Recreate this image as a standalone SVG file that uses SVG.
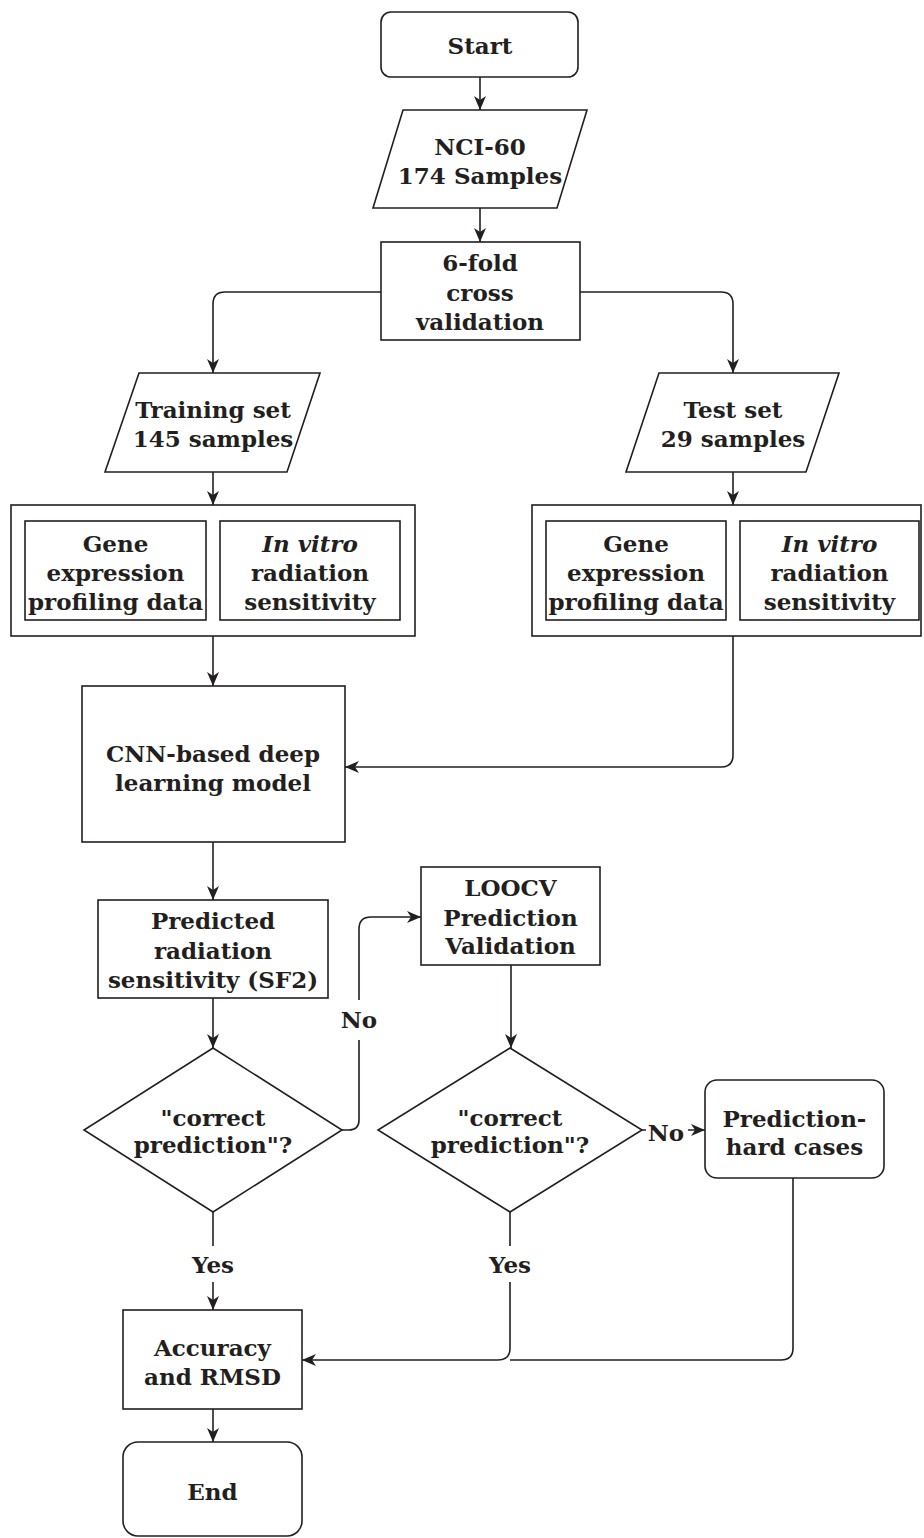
<svg xmlns="http://www.w3.org/2000/svg" width="924" height="1538" viewBox="0 0 924 1538">
<style>
.s{fill:#fff;stroke:#231f20;stroke-width:1.6}
.c{fill:none;stroke:#231f20;stroke-width:1.6}
text{font-family:"DejaVu Serif","Liberation Serif",serif;font-weight:bold;font-size:23px;fill:#231f20;text-anchor:middle;dominant-baseline:central}
.i{font-style:italic}
</style>
<defs>
<marker id="a" viewBox="0 0 14 12" refX="14" refY="6" markerWidth="14" markerHeight="12" markerUnits="userSpaceOnUse" orient="auto">
<path d="M0,0 L14,6 L0,12 L4,6 z" fill="#231f20"/>
</marker>
</defs>
<rect width="924" height="1538" fill="#fff"/>
<g id="connectors">
<path class="c" d="M480,77 V110" marker-end="url(#a)"/>
<path class="c" d="M480,208 V242" marker-end="url(#a)"/>
<path class="c" d="M381,292 H225 Q213,292 213,304 V373" marker-end="url(#a)"/>
<path class="c" d="M580,292 H721 Q733,292 733,304 V373" marker-end="url(#a)"/>
<path class="c" d="M213,472 V505" marker-end="url(#a)"/>
<path class="c" d="M733,472 V505" marker-end="url(#a)"/>
<path class="c" d="M213,636 V686" marker-end="url(#a)"/>
<path class="c" d="M733,636 V755 Q733,767 721,767 H345" marker-end="url(#a)"/>
<path class="c" d="M213,842 V900" marker-end="url(#a)"/>
<path class="c" d="M213,998 V1048" marker-end="url(#a)"/>
<path class="c" d="M342,1130 H349 Q359,1130 359,1120 V929 Q359,917 371,917 H421" marker-end="url(#a)"/>
<path class="c" d="M511,965 V1048" marker-end="url(#a)"/>
<path class="c" d="M642,1130 H705" marker-end="url(#a)"/>
<path class="c" d="M213,1212 V1310" marker-end="url(#a)"/>
<path class="c" d="M510,1212 V1348 Q510,1360 498,1360 H302" marker-end="url(#a)"/>
<path class="c" d="M793,1178 V1348 Q793,1360 781,1360 H510"/>
<path class="c" d="M213,1409 V1442" marker-end="url(#a)"/>
<rect x="338" y="1000" width="42" height="40" fill="#fff"/>
<text x="359" y="1019">No</text>
<rect x="646" y="1116" width="42" height="30" fill="#fff"/>
<text x="666" y="1132">No</text>
<rect x="186" y="1246" width="54" height="36" fill="#fff"/>
<text x="213" y="1264">Yes</text>
<rect x="483" y="1246" width="54" height="36" fill="#fff"/>
<text x="510" y="1264">Yes</text>
</g>
<g id="start">
<rect class="s" x="381" y="12" width="197" height="65" rx="10"/>
<text x="480" y="45">Start</text>
</g>
<g id="nci60">
<polygon class="s" points="403,110 587,110 557,208 373,208"/>
<text x="480" y="146">NCI-60</text>
<text x="480" y="175">174 Samples</text>
</g>
<g id="cv">
<rect class="s" x="381" y="242" width="199" height="98"/>
<text x="480" y="262">6-fold</text>
<text x="480" y="292">cross</text>
<text x="480" y="321">validation</text>
</g>
<g id="training">
<polygon class="s" points="139,373 320,373 287,472 105,472"/>
<text x="213" y="409">Training set</text>
<text x="213" y="438">145 samples</text>
</g>
<g id="test">
<polygon class="s" points="659,373 839,373 806,472 626,472"/>
<text x="733" y="409">Test set</text>
<text x="733" y="438">29 samples</text>
</g>
<g id="train-data">
<rect class="s" x="11" y="505" width="404" height="131"/>
<rect class="s" x="25" y="521" width="181" height="99"/>
<text x="115.5" y="543">Gene</text>
<text x="115.5" y="572">expression</text>
<text x="115.5" y="601">profiling data</text>
<rect class="s" x="220" y="521" width="180" height="99"/>
<text x="310" y="543" class="i">In vitro</text>
<text x="310" y="572">radiation</text>
<text x="310" y="601">sensitivity</text>
</g>
<g id="test-data">
<rect class="s" x="532" y="505" width="389" height="131"/>
<rect class="s" x="546" y="521" width="180" height="99"/>
<text x="636" y="543">Gene</text>
<text x="636" y="572">expression</text>
<text x="636" y="601">profiling data</text>
<rect class="s" x="740" y="521" width="179" height="99"/>
<text x="829.5" y="543" class="i">In vitro</text>
<text x="829.5" y="572">radiation</text>
<text x="829.5" y="601">sensitivity</text>
</g>
<g id="cnn">
<rect class="s" x="82" y="686" width="263" height="156"/>
<text x="213" y="753">CNN-based deep</text>
<text x="213" y="782">learning model</text>
</g>
<g id="predicted">
<rect class="s" x="98" y="900" width="230" height="98"/>
<text x="213" y="920">Predicted</text>
<text x="213" y="950">radiation</text>
<text x="213" y="979">sensitivity (SF2)</text>
</g>
<g id="loocv">
<rect class="s" x="421" y="867" width="179" height="98"/>
<text x="510.5" y="887">LOOCV</text>
<text x="510.5" y="917">Prediction</text>
<text x="510.5" y="945">Validation</text>
</g>
<g id="decision1">
<polygon class="s" points="213,1048 342,1130 213,1212 84,1130"/>
<text x="213" y="1117">"correct</text>
<text x="213" y="1144">prediction"?</text>
</g>
<g id="decision2">
<polygon class="s" points="510,1048 642,1130 510,1212 378,1130"/>
<text x="510" y="1117">"correct</text>
<text x="510" y="1144">prediction"?</text>
</g>
<g id="hard">
<rect class="s" x="705" y="1080" width="179" height="98" rx="12"/>
<text x="794.5" y="1118">Prediction-</text>
<text x="794.5" y="1146">hard cases</text>
</g>
<g id="accuracy">
<rect class="s" x="123" y="1310" width="179" height="99"/>
<text x="212.5" y="1347">Accuracy</text>
<text x="212.5" y="1376">and RMSD</text>
</g>
<g id="end">
<rect class="s" x="123" y="1442" width="179" height="94" rx="15"/>
<text x="212.5" y="1491">End</text>
</g>
</svg>
